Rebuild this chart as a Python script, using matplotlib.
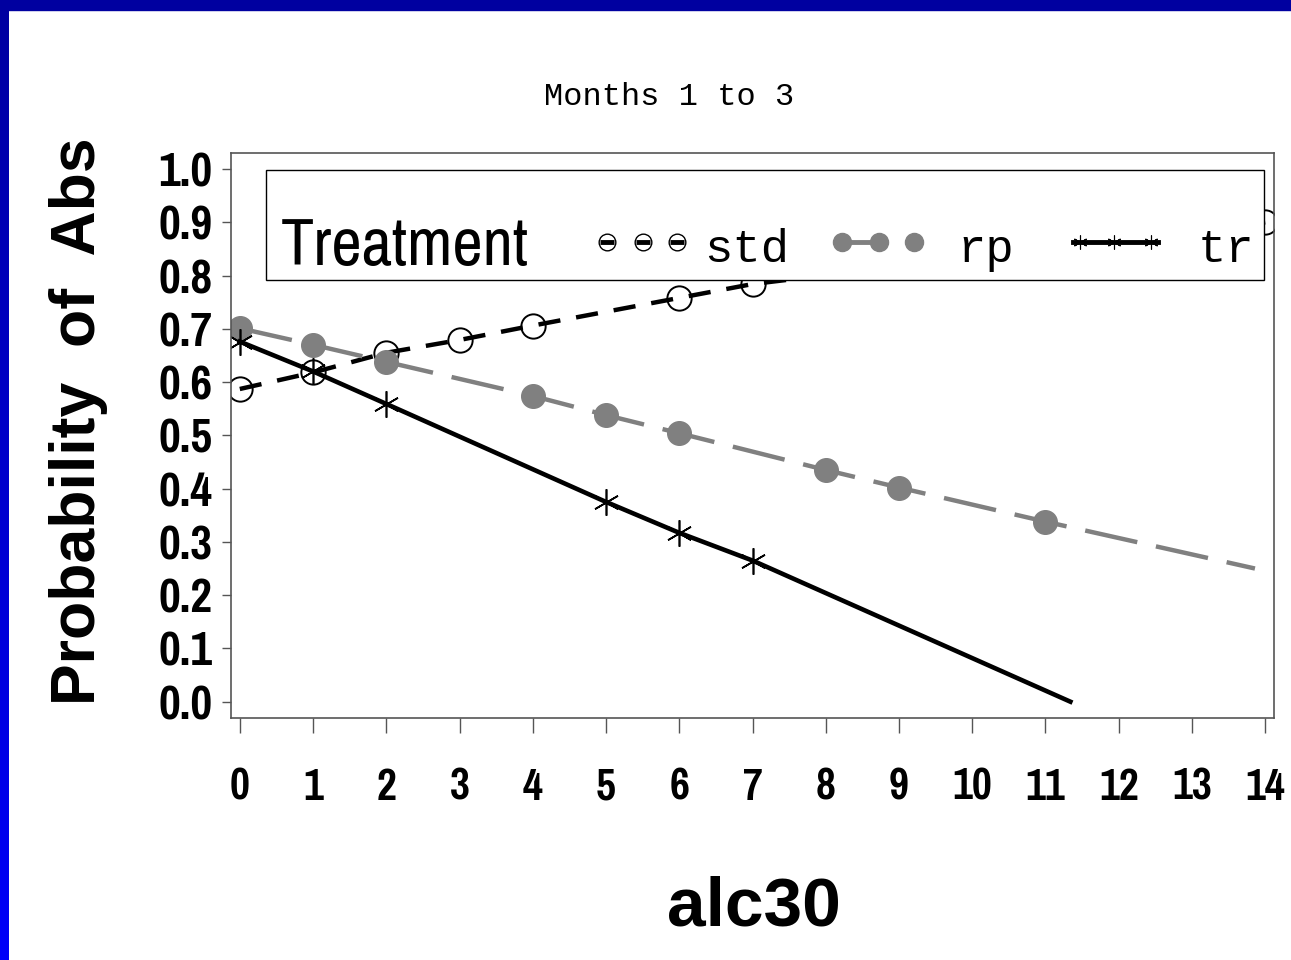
import matplotlib
matplotlib.use('Agg')
import numpy as np
import matplotlib.pyplot as plt
from matplotlib.lines import Line2D
from matplotlib.patches import Rectangle
from matplotlib.colors import LinearSegmentedColormap
from matplotlib import font_manager

# predicted probability of abstinence by alc30, months 1 to 3
std_x = [0, 1, 2, 3, 4, 6, 7, 14]
std_y = [0.587, 0.618, 0.655, 0.679, 0.706, 0.758, 0.784, 0.900]

rp_x = [0, 1, 2, 4, 5, 6, 8, 9, 11]
rp_y = [0.701, 0.670, 0.638, 0.574, 0.538, 0.504, 0.435, 0.402, 0.338]
rp_end = (13.86, 0.250)

tr_x = [0, 1, 2, 5, 6, 7]
tr_y = [0.676, 0.620, 0.559, 0.375, 0.317, 0.265]
tr_end = (11.34, 0.0)

x_ticks = list(range(15))
y_ticks = [0.0, 0.1, 0.2, 0.3, 0.4, 0.5, 0.6, 0.7, 0.8, 0.9, 1.0]

W, H = 1291, 960

# pick a narrow helvetica-like face with static regular + bold files
weights = {}
for f in font_manager.fontManager.ttflist:
    if f.style == 'normal' and '[' not in f.fname:
        weights.setdefault(f.name, set()).add(int(f.weight) if str(f.weight).isdigit() else 400)
narrow = 'Liberation Sans'
for cand in ['Liberation Sans Narrow', 'Arial Narrow', 'Nimbus Sans Narrow',
             'Pragati Narrow', 'PT Sans Narrow', 'Roboto Condensed', 'Archivo Narrow',
             'IBM Plex Sans Condensed', 'Fira Sans Condensed', 'Encode Sans Condensed']:
    w = weights.get(cand, set())
    if 400 in w and any(v >= 700 for v in w):
        narrow = cand
        break
mono = 'Liberation Mono'
sans = 'Liberation Sans'


def fpx(x, y):
    # pixel position -> figure fraction
    return x / W, 1 - y / H


fig = plt.figure(figsize=(W / 100, H / 100), dpi=100, facecolor='white')

# slide frame: dark bar on top, gradient bar on the left
side = fig.add_axes([0, 0, 9 / W, 1])
side.imshow(np.linspace(0, 1, 256).reshape(-1, 1), aspect='auto',
            cmap=LinearSegmentedColormap.from_list('side', ['#0000A0', '#0000FA']))
side.axis('off')
fig.patches.append(Rectangle((0, 1 - 10 / H), 1, 10 / H, transform=fig.transFigure,
                             color='#0000A0', zorder=3))

ax = fig.add_axes([231 / W, 1 - 718 / H, (1274 - 231) / W, (718 - 153) / H])

ax.plot(std_x, std_y, color='black', lw=3.2, dashes=(5, 3.6),
        marker='o', ms=17.5, mfc='none', mec='black', mew=1.4)

ax.plot(rp_x + [rp_end[0]], rp_y + [rp_end[1]], color='#808080', lw=3.2,
        dashes=(12, 4.3), marker='o', ms=17, mfc='#808080', mec='#808080',
        markevery=list(range(len(rp_x))))

ax.plot(tr_x + [tr_end[0]], tr_y + [tr_end[1]], color='black', lw=3.3,
        marker=(6, 2, 0), ms=19, mec='black', mew=1.2,
        markevery=list(range(len(tr_x))))

ax.set_xlim(-0.12, 14.12)
ax.set_ylim(-0.0306, 1.030)
ax.set_xticks(x_ticks)
ax.set_yticks(y_ticks)
ax.set_yticklabels(['%.1f' % v for v in y_ticks])

for s in ax.spines.values():
    s.set_color('#555555')
    s.set_linewidth(1.2)

ax.tick_params(axis='x', length=11, width=1, color='#555555', pad=25)
ax.tick_params(axis='y', length=6.5, width=1, color='#555555', pad=7)
for lab in ax.get_xticklabels():
    lab.set_fontfamily(narrow)
    lab.set_fontweight('bold')
    lab.set_fontsize(34)
for lab in ax.get_yticklabels():
    lab.set_fontfamily(narrow)
    lab.set_fontweight('bold')
    lab.set_fontsize(37)

# titles
fig.text(*fpx(669, 105), 'Months 1 to 3', family=mono, fontsize=23,
         ha='center', va='baseline')
fig.text(*fpx(754, 925), 'alc30', family=sans, fontweight='bold', fontsize=50,
         ha='center', va='baseline')
fig.text(*fpx(79, 421), 'Probability  of  Abs', family=sans, fontweight='bold',
         fontsize=45, rotation=90, ha='center', va='center')

# legend box
x0, y0 = fpx(266, 280)
x1, y1 = fpx(1264, 170)
fig.patches.append(Rectangle((x0, y0), x1 - x0, y1 - y0, transform=fig.transFigure,
                             facecolor='white', edgecolor='black', lw=1.0, zorder=5))
fig.text(*fpx(281, 265), 'Treatment', family=narrow, fontsize=52,
         ha='left', va='baseline', zorder=6)

ly = 242
for cx in [607, 643, 677]:
    xs, ys = zip(fpx(cx - 7, ly), fpx(cx + 7, ly))
    fig.add_artist(Line2D(xs, ys, transform=fig.transFigure, color='black', lw=3.5,
                          solid_capstyle='butt', zorder=6))
    fig.add_artist(Line2D(*zip(fpx(cx, ly)), transform=fig.transFigure, marker='o',
                          ms=12, mfc='none', mec='black', mew=1.0, zorder=7))
fig.text(*fpx(704, 262), 'std', family=mono, fontsize=34, ha='left',
         va='baseline', zorder=6)

xs, ys = zip(fpx(842, ly), fpx(879, ly))
fig.add_artist(Line2D(xs, ys, transform=fig.transFigure, color='#808080', lw=3.5,
                      zorder=6))
for cx in [842, 879, 914]:
    fig.add_artist(Line2D(*zip(fpx(cx, ly)), transform=fig.transFigure, marker='o',
                          ms=13, mfc='#808080', mec='#808080', zorder=7))
fig.text(*fpx(957, 262), 'rp', family=mono, fontsize=34, ha='left',
         va='baseline', zorder=6)

xs, ys = zip(fpx(1073, ly), fpx(1158, ly))
fig.add_artist(Line2D(xs, ys, transform=fig.transFigure, color='black', lw=3.5,
                      zorder=6))
for cx in [1080, 1114, 1151]:
    fig.add_artist(Line2D(*zip(fpx(cx, ly)), transform=fig.transFigure,
                          marker=(6, 2, 0), ms=10, mec='black', mew=0.8, zorder=7))
fig.text(*fpx(1198, 262), 'tr', family=mono, fontsize=34, ha='left',
         va='baseline', zorder=6)

fig.savefig('out.png', dpi=100, facecolor='white')
